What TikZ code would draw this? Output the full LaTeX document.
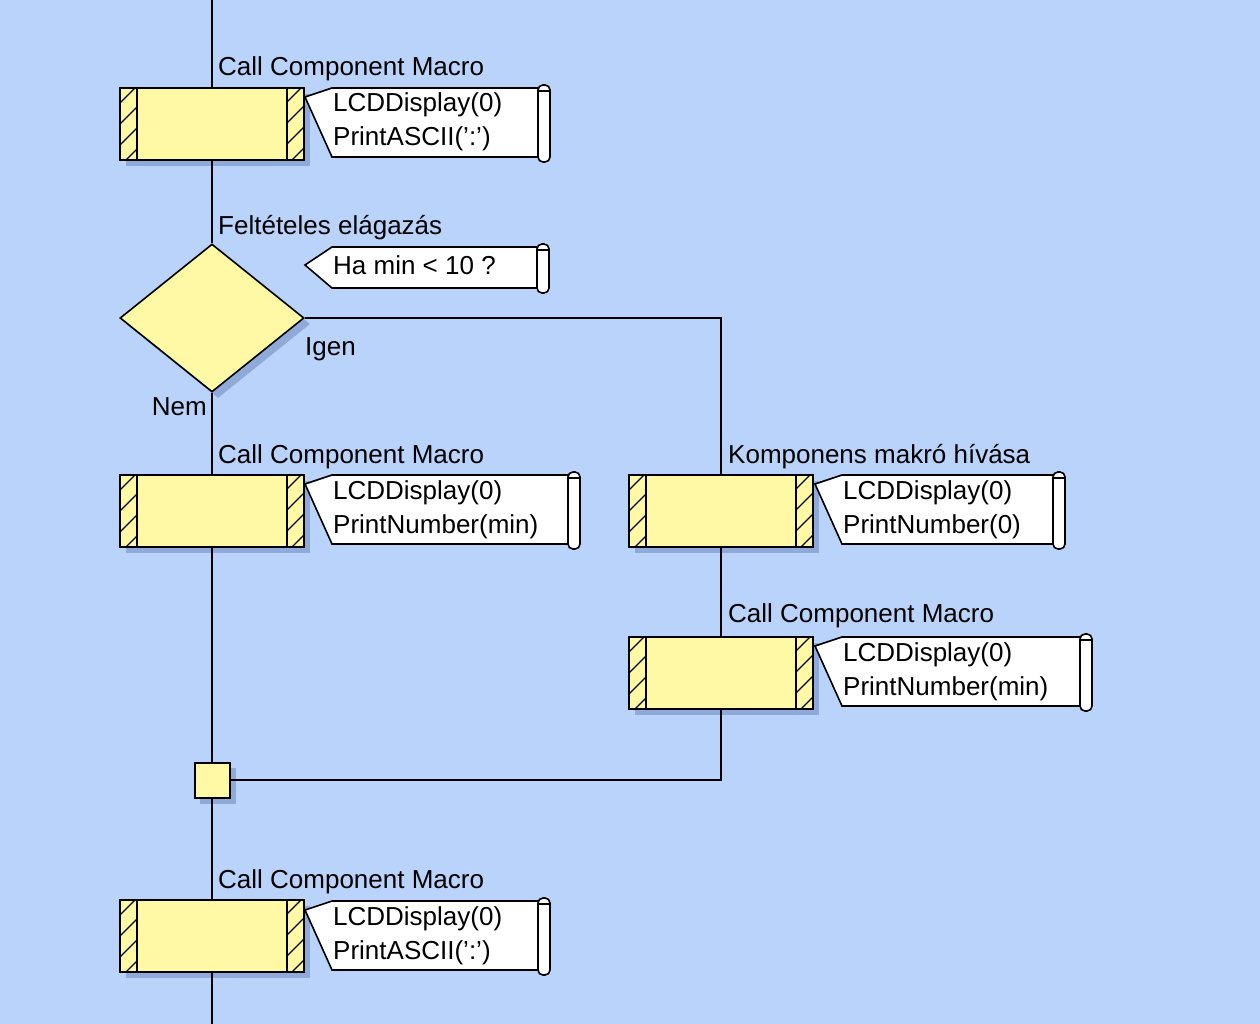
\documentclass[tikz,border=0pt]{standalone}
\usepackage{fontspec}
\setmainfont{Liberation Sans}
\usetikzlibrary{shapes.geometric,calc}
\definecolor{bg}{HTML}{B9D3FA}
\definecolor{blk}{HTML}{FFF9A6}
\definecolor{shad}{HTML}{8FA9D8}
\tikzset{
  conn/.style={line width=2pt, draw=black},
  blockframe/.style={draw=black, line width=2pt, minimum width=184pt, minimum height=72pt, inner sep=0pt},
  hatchline/.style={line width=1.3pt, draw=black},
  lbl/.style={font=\fontsize{26}{34}\selectfont, inner sep=0pt, anchor=base west},
  cmttext/.style={font=\fontsize{26}{34}\selectfont, inner sep=0pt, anchor=base west, align=left},
  cmtline/.style={line width=1.6pt, draw=black},
  scrl/.style={line width=1.6pt, draw=black, fill=white, rounded corners=5pt},
}
% block: name, cx, cy
\newcommand\mblock[3]{%
  \fill[shad] (#2-92+6,#3-36+6) rectangle (#2+92+6,#3+36+6);
  \fill[blk] (#2-92,#3-36) rectangle (#2+92,#3+36);
  \begin{scope}
    \clip (#2-91,#3-35) rectangle (#2-75,#3+35);
    \foreach \k in {0,...,5} \draw[hatchline] (#2-95,#3+45-\k*21) -- ++(24,-24);
  \end{scope}
  \begin{scope}
    \clip (#2+75,#3-35) rectangle (#2+91,#3+35);
    \foreach \k in {0,...,5} \draw[hatchline] (#2+71,#3+45-\k*21) -- ++(24,-24);
  \end{scope}
  \node[blockframe] (#1) at (#2,#3) {};
  \draw[line width=2pt] (#2-75,#3-36) -- (#2-75,#3+36);
  \draw[line width=2pt] (#2+75,#3-36) -- (#2+75,#3+36);
}
% comment: name, tipx, tipy, top, bottom, right, last-line baseline, text
\newcommand\cmtbox[8]{%
  \fill[white] (#2,#3) -- (#2+27,#4) -- (#6,#4) -- (#6,#5) -- (#2+27,#5) -- cycle;
  \draw[cmtline] (#6,#4) -- (#2+27,#4) -- (#2,#3) -- (#2+27,#5) -- (#6,#5);
  \draw[scrl] (#6,#4-3) rectangle (#6+12,#5+5);
  \draw[line width=1.2pt] (#6,#4+3) -- (#6+12,#4+3);
  \node[cmttext] (#1) at (#2+28,#7) {#8};
}
\begin{document}
\begin{tikzpicture}[x=1pt,y=-1pt]
\useasboundingbox (0,0) rectangle (1260,1024);
\fill[bg] (0,0) rectangle (1260,1024);

% blocks
\mblock{b1}{212}{124}
\mblock{b2}{212}{511}
\mblock{b3}{721}{511}
\mblock{b4}{721}{673}
\mblock{b5}{212}{936}

% decision
\node[diamond, fill=shad, minimum width=184pt, minimum height=148pt, inner sep=0pt] at (218,324) {};
\node[diamond, draw=black, line width=1.6pt, fill=blk, minimum width=184pt, minimum height=148pt, inner sep=0pt] (dec) at (212,318) {};

% junction
\fill[shad] (200,768) rectangle (236,804);
\node[draw=black, line width=2pt, fill=blk, minimum size=35pt, inner sep=0pt] (junc) at (212,780) {};

% connectors
\coordinate (top) at (212,0);
\coordinate (bot) at (212,1024);
\draw[conn] (top) -- (b1.north);
\draw[conn] (b1.south) -- (dec.north);
\draw[conn] (dec.south) -- (b2.north);
\draw[conn] (b2.south) -- (junc.north);
\draw[conn] (junc.south) -- (b5.north);
\draw[conn] (b5.south) -- (bot);
\draw[conn] (dec.east) -| (b3.north);
\draw[conn] (b3.south) -- (b4.north);
\draw[conn] (b4.south) |- (junc.east);

% comments
\cmtbox{c1}{305}{97}{88}{157}{538}{146}{LCDDisplay(0)\\PrintASCII(':')}
\cmtbox{cd}{305}{265}{247}{288}{537}{274}{Ha min < 10 ?}
\cmtbox{c2}{305}{484}{475}{544}{568}{533}{LCDDisplay(0)\\PrintNumber(min)}
\cmtbox{c3}{815}{484}{475}{544}{1053}{533}{LCDDisplay(0)\\PrintNumber(0)}
\cmtbox{c4}{815}{646}{637}{706}{1080}{695}{LCDDisplay(0)\\PrintNumber(min)}
\cmtbox{c5}{305}{910}{901}{970}{538}{959}{LCDDisplay(0)\\PrintASCII(':')}

% labels
\node[lbl] (l1) at (218,76) {Call Component Macro};
\node[lbl] (ld) at (218,235) {Feltételes elágazás};
\node[lbl] (ligen) at (305,355) {Igen};
\node[lbl, anchor=base east] (lnem) at (207,415) {Nem};
\node[lbl] (l2) at (218,463) {Call Component Macro};
\node[lbl] (l3) at (728,463) {Komponens makró hívása};
\node[lbl] (l4) at (728,622) {Call Component Macro};
\node[lbl] (l5) at (218,888) {Call Component Macro};
\end{tikzpicture}
\end{document}
